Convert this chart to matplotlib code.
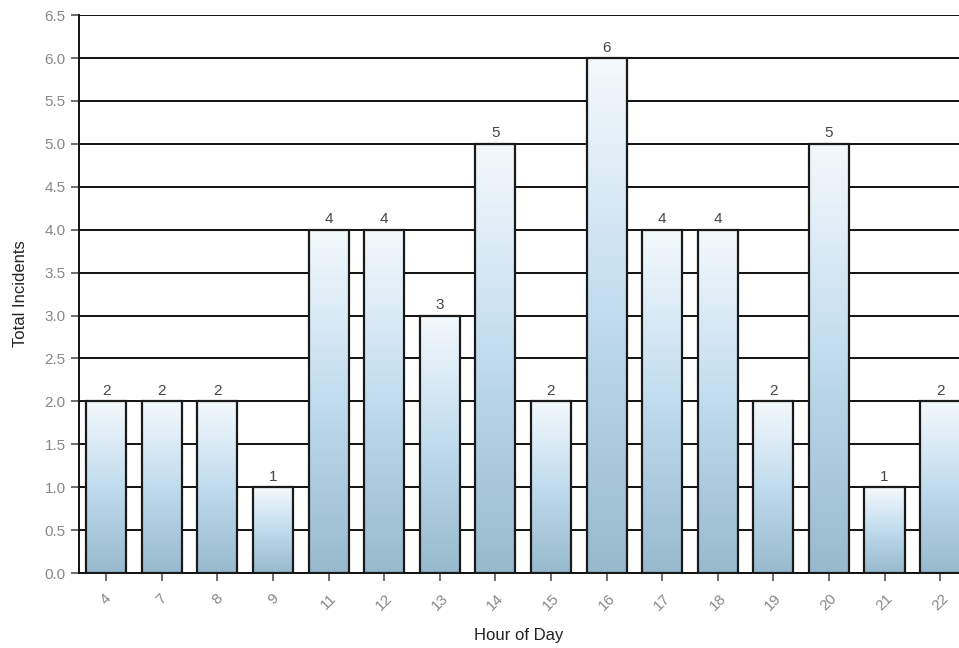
import numpy as np
import matplotlib
matplotlib.use("Agg")
import matplotlib.pyplot as plt
from matplotlib.colors import LinearSegmentedColormap
from matplotlib.patches import Rectangle

# data
hours = ["4", "7", "8", "9", "11", "12", "13", "14", "15", "16", "17", "18", "19", "20", "21", "22"]
incidents = [2, 2, 2, 1, 4, 4, 3, 5, 2, 6, 4, 4, 2, 5, 1, 2]

plt.rcParams['font.family'] = ['Liberation Sans', 'DejaVu Sans']

fig = plt.figure(figsize=(9.59, 6.48), dpi=100)
ax = fig.add_axes([0.0824, 0.1157, 0.9176, 0.861])

cmap = LinearSegmentedColormap.from_list("barfade", ["#f4f9fc", "#c0dcee", "#98b9cd"])
grad = np.linspace(0, 1, 256).reshape(-1, 1)

x = np.arange(len(hours))
width = 0.72
for xi, h in zip(x, incidents):
    rect = Rectangle((xi - width / 2, 0), width, h, facecolor="none",
                     edgecolor="#1a1a1a", linewidth=1.6, zorder=3)
    ax.add_patch(rect)
    im = ax.imshow(grad, cmap=cmap, aspect="auto",
                   extent=[xi - width / 2, xi + width / 2, 0, h],
                   origin="upper", zorder=2)
    im.set_clip_path(rect)
    ax.text(xi, h + 0.04, str(h), ha="center", va="bottom",
            fontsize=11, color="#444444", zorder=4)

ax.set_xlim(-0.49, 15.34)
ax.set_ylim(0, 6.5)
ax.set_yticks(np.arange(0, 6.51, 0.5))
ax.set_yticklabels([f"{v:.1f}" for v in np.arange(0, 6.51, 0.5)])
ax.set_xticks(x)
ax.set_xticklabels(hours, rotation=45, ha="center")

ax.grid(axis="y", color="#111111", linewidth=1.4, zorder=1)
ax.set_axisbelow(True)

for s in ["top", "right"]:
    ax.spines[s].set_visible(False)
ax.spines["left"].set_linewidth(1.4)
ax.spines["bottom"].set_linewidth(1.4)
ax.spines["left"].set_color("#111111")
ax.spines["bottom"].set_color("#111111")

ax.tick_params(axis="both", colors="#555555", labelsize=11, length=6, width=1.2)
ax.tick_params(axis="x", pad=7)
for lab in ax.get_yticklabels() + ax.get_xticklabels():
    lab.set_color("#888888")

ax.set_xlabel("Hour of Day", fontsize=12, color="#222222", labelpad=11)
ax.set_ylabel("Total Incidents", fontsize=12, color="#222222", labelpad=12)

fig.savefig("out.png", dpi=100)
